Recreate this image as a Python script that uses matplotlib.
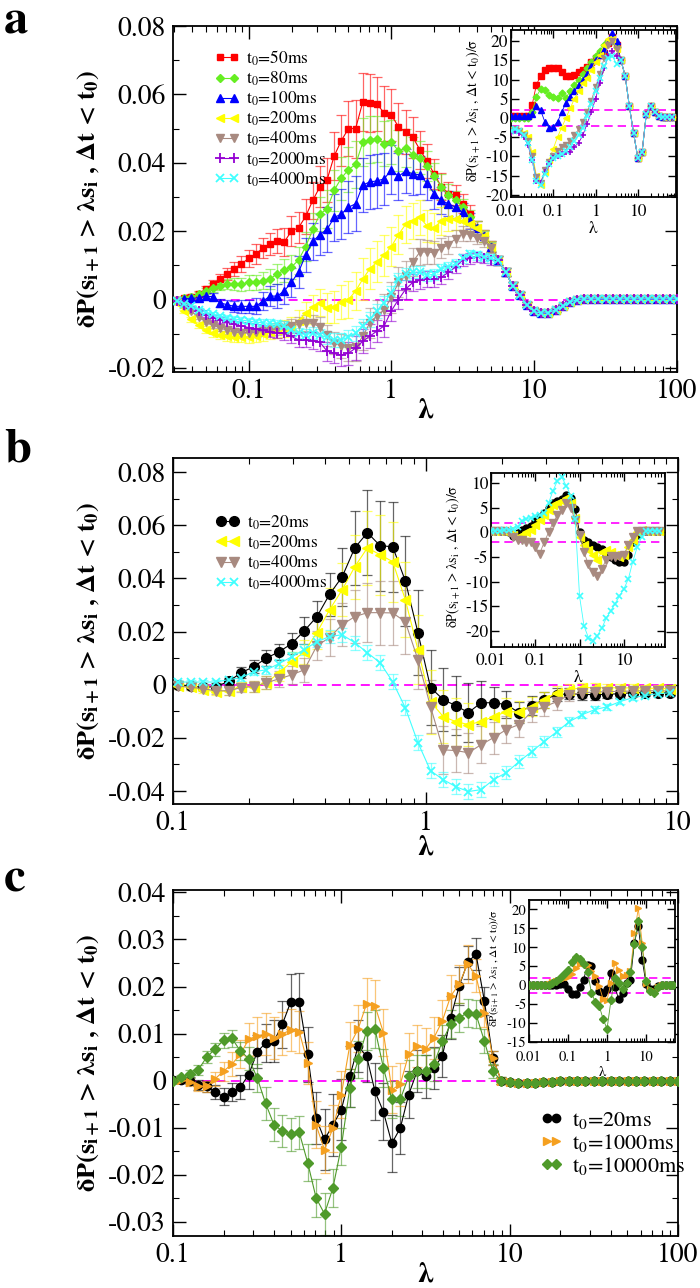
import numpy as np
import matplotlib
matplotlib.use('Agg')
import matplotlib.pyplot as plt
from matplotlib.ticker import LogLocator, NullFormatter, MultipleLocator

plt.rcParams['font.family'] = ['STIXGeneral', 'DejaVu Serif']
plt.rcParams['mathtext.fontset'] = 'stix'
plt.rcParams['mathtext.default'] = 'regular'

# ---------------- panel a (main) : lambda bins, 20 per decade ----------------
lam_a = 10 ** (np.arange(-30, 41) / 20)
labels_a = ['t$_0$=50ms', 't$_0$=80ms', 't$_0$=100ms', 't$_0$=200ms',
            't$_0$=400ms', 't$_0$=2000ms', 't$_0$=4000ms']
# shared high-lambda part (k = 15..40), all curves collapse there
tail_a = [0.0115, 0.008, 0.004, 0.0012, -0.0015, -0.0035, -0.004, -0.0038, -0.003, -0.002,
          -0.0008, 0.0, 0.0002, 0.0002, 0.0002, 0.0002, 0.0002, 0.0002, 0.0002, 0.0002,
          0.0002, 0.0002, 0.0002, 0.0002, 0.0002, 0.0002]
tail_a_err = [0.0013, 0.0012, 0.001, 0.0009, 0.0008, 0.0008, 0.0007, 0.0007, 0.0006, 0.0006,
              0.0005, 0.0005, 0.0004, 0.0004, 0.0004, 0.0004, 0.0004, 0.0004, 0.0004, 0.0004,
              0.0004, 0.0004, 0.0004, 0.0004, 0.0004, 0.0004]
red_a = [0.0, 0.0003, 0.0008, 0.0015, 0.003, 0.0045, 0.006, 0.0075, 0.009, 0.0104,
         0.012, 0.0133, 0.015, 0.0162, 0.0171, 0.0168, 0.020, 0.021, 0.0243, 0.029,
         0.033, 0.035, 0.042, 0.0465, 0.050, 0.050, 0.0578, 0.0575, 0.0572, 0.0545,
         0.054, 0.0505, 0.049, 0.0475, 0.0438, 0.0405, 0.0367, 0.033, 0.031, 0.0305,
         0.028, 0.025, 0.021, 0.0185, 0.0155]
green_a = [0.0, 0.0003, 0.0008, 0.0015, 0.0025, 0.0035, 0.004, 0.0045, 0.0045, 0.0045,
           0.005, 0.005, 0.0055, 0.006, 0.0075, 0.0085, 0.0095, 0.0115, 0.0155, 0.0205,
           0.025, 0.0265, 0.032, 0.0355, 0.038, 0.0395, 0.046, 0.0468, 0.047, 0.0456,
           0.046, 0.0435, 0.0444, 0.0424, 0.0415, 0.039, 0.036, 0.033, 0.0305, 0.029,
           0.027, 0.024, 0.021, 0.0185, 0.0155]
blue_a = [0.0, 0.0002, 0.0003, 0.0005, 0.001, 0.0008, -0.001, -0.0015, -0.002, -0.002,
          -0.002, -0.002, -0.0005, 0.001, 0.001, 0.0025, 0.005, 0.008, 0.013, 0.017,
          0.019, 0.0205, 0.024, 0.025, 0.027, 0.028, 0.0335, 0.0344, 0.0347, 0.0353,
          0.038, 0.036, 0.0376, 0.0367, 0.0365, 0.034, 0.031, 0.029, 0.028, 0.027,
          0.0255, 0.023, 0.021, 0.0185, 0.0155]
yellow_a = [-0.001, -0.0035, -0.0058, -0.0075, -0.0088, -0.0098, -0.0103, -0.0107, -0.011, -0.011,
            -0.011, -0.0107, -0.0102, -0.0095, -0.009, -0.0085, -0.0078, -0.0062, -0.004, -0.0022,
            -0.0009, -0.0025, -0.0022, -0.0007, 0.0, 0.0025, 0.006, 0.009, 0.011, 0.013,
            0.0155, 0.019, 0.022, 0.023, 0.024, 0.0215, 0.021, 0.023, 0.0235, 0.0235,
            0.023, 0.022, 0.021, 0.0185, 0.0155]
brown_a = [-0.0005, -0.002, -0.0035, -0.005, -0.0065, -0.0075, -0.0083, -0.009, -0.0095, -0.0098,
           -0.0098, -0.0096, -0.0093, -0.009, -0.0087, -0.0082, -0.0078, -0.0072, -0.0068, -0.007,
           -0.008, -0.0105, -0.0127, -0.0136, -0.0142, -0.014, -0.0107, -0.0068, -0.0047, -0.003,
           0.0006, 0.005, 0.007, 0.011, 0.0139, 0.0139, 0.0137, 0.015, 0.016, 0.0178,
           0.0193, 0.019, 0.018, 0.017, 0.015]
purple_a = [-0.0004, -0.0015, -0.0025, -0.0035, -0.0045, -0.0053, -0.006, -0.0067, -0.0073, -0.0077,
            -0.0082, -0.0086, -0.009, -0.0094, -0.0097, -0.0099, -0.0108, -0.0118, -0.0118, -0.012,
            -0.0125, -0.0151, -0.0157, -0.0163, -0.0157, -0.0142, -0.0122, -0.0107, -0.0092, -0.0077,
            -0.0033, 0.0, 0.003, 0.005, 0.0056, 0.006, 0.006, 0.0065, 0.008, 0.0095,
            0.0116, 0.012, 0.0125, 0.012, 0.0115]
cyan_a = [-0.0003, -0.0012, -0.002, -0.003, -0.0037, -0.0043, -0.0048, -0.0053, -0.0057, -0.006,
          -0.0063, -0.0066, -0.0068, -0.007, -0.0072, -0.0076, -0.009, -0.0098, -0.0103, -0.0098,
          -0.0104, -0.011, -0.0118, -0.0118, -0.011, -0.0098, -0.0078, -0.0058, -0.0033, -0.0009,
          0.002, 0.006, 0.0074, 0.008, 0.008, 0.0071, 0.0074, 0.009, 0.0095, 0.0105,
          0.012, 0.0133, 0.013, 0.0125, 0.012]
red_a_err = [0.0003, 0.0005, 0.0007, 0.0009, 0.0011, 0.0013, 0.0015, 0.0018, 0.002, 0.0023,
             0.0025, 0.0028, 0.003, 0.0033, 0.0036, 0.004, 0.0043, 0.0046, 0.005, 0.0055,
             0.006, 0.0065, 0.007, 0.0075, 0.008, 0.0085, 0.0085, 0.0085, 0.008, 0.008,
             0.0075, 0.007, 0.0065, 0.006, 0.0055, 0.005, 0.0045, 0.004, 0.0035, 0.003,
             0.0028, 0.0025, 0.002, 0.0017, 0.0015]
green_a_err = [0.0003, 0.0004, 0.0006, 0.0008, 0.001, 0.0012, 0.0013, 0.0015, 0.0017, 0.0019,
               0.0021, 0.0023, 0.0025, 0.0028, 0.003, 0.0033, 0.0036, 0.004, 0.0043, 0.0047,
               0.005, 0.0055, 0.006, 0.0063, 0.0066, 0.007, 0.007, 0.007, 0.0068, 0.0066,
               0.0064, 0.006, 0.0056, 0.0052, 0.0048, 0.0044, 0.004, 0.0036, 0.0032, 0.0028,
               0.0025, 0.0022, 0.0019, 0.0016, 0.0014]
blue_a_err = [0.0003, 0.0004, 0.0005, 0.0007, 0.0009, 0.001, 0.0012, 0.0014, 0.0016, 0.0018,
              0.002, 0.0023, 0.0026, 0.003, 0.0034, 0.0038, 0.0042, 0.0046, 0.005, 0.0055,
              0.006, 0.0065, 0.007, 0.0073, 0.0076, 0.008, 0.008, 0.008, 0.0078, 0.0076,
              0.0072, 0.0068, 0.0064, 0.006, 0.0055, 0.005, 0.0045, 0.004, 0.0036, 0.0032,
              0.0028, 0.0024, 0.002, 0.0017, 0.0015]
yellow_a_err = [0.0003, 0.0005, 0.0007, 0.0009, 0.001, 0.0011, 0.0012, 0.0013, 0.0014, 0.0015,
                0.0016, 0.0017, 0.0018, 0.002, 0.0022, 0.0025, 0.0028, 0.003, 0.0033, 0.0036,
                0.004, 0.0043, 0.0046, 0.005, 0.0053, 0.0056, 0.006, 0.006, 0.006, 0.006,
                0.0058, 0.0056, 0.0054, 0.0052, 0.005, 0.0047, 0.0044, 0.004, 0.0036, 0.0032,
                0.0028, 0.0024, 0.002, 0.0017, 0.0015]
brown_a_err = [0.0003, 0.0004, 0.0005, 0.0006, 0.0007, 0.0008, 0.0009, 0.001, 0.0011, 0.0012,
               0.0013, 0.0014, 0.0015, 0.0016, 0.0017, 0.0018, 0.002, 0.0022, 0.0024, 0.0026,
               0.0028, 0.003, 0.0032, 0.0035, 0.0038, 0.004, 0.0042, 0.0044, 0.0045, 0.0045,
               0.0045, 0.0044, 0.0042, 0.004, 0.0038, 0.0036, 0.0033, 0.003, 0.0027, 0.0024,
               0.0021, 0.0019, 0.0017, 0.0015, 0.0014]
purple_a_err = [0.0003, 0.0004, 0.0005, 0.0006, 0.0007, 0.0008, 0.0009, 0.001, 0.0011, 0.0012,
                0.0013, 0.0014, 0.0015, 0.0016, 0.0017, 0.0018, 0.0019, 0.002, 0.0022, 0.0024,
                0.0026, 0.0028, 0.003, 0.0032, 0.0034, 0.0035, 0.0035, 0.0034, 0.0033, 0.0032,
                0.003, 0.0029, 0.0028, 0.0026, 0.0025, 0.0024, 0.0022, 0.002, 0.0019, 0.0018,
                0.0017, 0.0016, 0.0015, 0.0014, 0.0013]
cyan_a_err = [0.0002, 0.0003, 0.0004, 0.0005, 0.0006, 0.0006, 0.0007, 0.0008, 0.0008, 0.0009,
              0.001, 0.001, 0.0011, 0.0012, 0.0012, 0.0013, 0.0014, 0.0015, 0.0016, 0.0017,
              0.0018, 0.0019, 0.002, 0.0021, 0.0022, 0.0022, 0.0022, 0.0022, 0.0021, 0.002,
              0.002, 0.0019, 0.0018, 0.0018, 0.0017, 0.0016, 0.0016, 0.0015, 0.0015, 0.0014,
              0.0014, 0.0013, 0.0013, 0.0012, 0.0012]

# ---------------- panel a (inset) : dP / sigma, 10 bins per decade ----------------
lam_ia = 10 ** (np.arange(-20, 19) / 10)
tail_ia = [15, 11, 3, -4, -10.4, -9, 1, 3, 1.5, 0.5, 0.3, 0.3, 0.3]
red_ia = [0.5, 0.5, 0.5, 0.5, 0.5, 3.4, 8.6, 11, 12.5, 13,
          13, 13, 12, 11, 10.8, 11.2, 12, 12.5, 13.3, 14.5,
          15.6, 16.3, 17, 19.5, 21, 19]
green_ia = [0, 0, 0, 0, 0, 1.5, 5.5, 7.5, 7.2, 6,
            5.5, 5.3, 6.5, 5.2, 7, 8.5, 10, 11.5, 13, 14.5,
            16, 17.5, 19, 20, 20, 18.5]
blue_ia = [0.5, 0.5, 0.5, 0.5, 0.5, 1, 3, 2, -1, -2.5,
           -2.3, -1, 1.5, 4, 5.5, 7, 8.5, 10, 11.5, 13.5,
           15, 16.5, 18, 20, 22, 20]
yellow_ia = [-3, -3, -3.5, -4, -5, -9, -15, -17.5, -14, -11,
             -8, -5, -2.5, 0, 2.5, 5, 7, 9, 10.5, 12.5,
             14.5, 16.5, 19, 20.5, 20.5, 18]
brown_ia = [-3.5, -3, -3.5, -4.5, -6, -10, -15.5, -17, -13.5, -11.5,
            -10, -8.5, -7.5, -7, -6, -4.5, -3, -1, 1.5, 4.5,
            8, 11.5, 15.5, 19, 20, 18]
purple_ia = [-4, -3.5, -4, -5, -7, -11, -16.5, -17, -14, -12,
             -10.5, -10, -9.5, -9, -8.8, -7.5, -6.5, -4.5, -1.5, 1.5,
             5, 9, 13, 16, 17.5, 16]
cyan_ia = [-3.5, -3, -3.5, -4.5, -6.5, -11, -16.5, -17.5, -14.5, -12,
           -10.5, -10, -9.5, -8.5, -7.5, -6, -4.5, -2.5, 0.5, 3.5,
           7, 10.5, 13.5, 15.5, 16, 14]

# ---------------- panel b (main) ----------------
lam_b = 10 ** ((np.arange(-20, 20) + 0.4) / 20)
labels_b = ['t$_0$=20ms', 't$_0$=200ms', 't$_0$=400ms', 't$_0$=4000ms']
black_b = [0.0, -0.0006, -0.001, -0.0007, 0.0012, 0.0045, 0.0068, 0.01, 0.0124, 0.0154,
           0.0203, 0.0256, 0.034, 0.0406, 0.0515, 0.0572, 0.0523, 0.0519, 0.0391, 0.0196,
           -0.0011, -0.0056, -0.0079, -0.0105, -0.0068, -0.0068, -0.0075, -0.0105, -0.0079, -0.0056,
           -0.0038, -0.0034, -0.0036, -0.0038, -0.0036, -0.0034, -0.003, -0.003, -0.003, -0.003]
yellow_b = [-0.0005, -0.001, -0.002, -0.0026, -0.0023, -0.0007, -0.0007, 0.0007, 0.0045, 0.0087,
            0.0124, 0.0196, 0.0282, 0.0357, 0.0444, 0.0515, 0.0489, 0.0463, 0.032, 0.0132,
            -0.0064, -0.012, -0.0139, -0.015, -0.0139, -0.012, -0.0102, -0.0102, -0.0083, -0.0056,
            -0.003, -0.0019, -0.0011, -0.0011, -0.0011, -0.0012, -0.0012, -0.0013, -0.0014, -0.0015]
brown_b = [-0.0005, -0.001, -0.0015, -0.0023, -0.0023, -0.0011, -0.0007, 0.0007, 0.0022, 0.0037,
           0.0056, 0.0147, 0.0177, 0.0226, 0.0256, 0.0271, 0.0271, 0.027, 0.0237, 0.0094,
           -0.0083, -0.0245, -0.0248, -0.0256, -0.0226, -0.0199, -0.0169, -0.015, -0.0102, -0.0083,
           -0.0064, -0.0038, -0.003, -0.0028, -0.0026, -0.0025, -0.0024, -0.0023, -0.0023, -0.0024]
cyan_b = [0.001, 0.001, 0.001, 0.001, 0.0019, 0.0026, 0.0049, 0.0056, 0.0079, 0.0105,
          0.0132, 0.0162, 0.0181, 0.0188, 0.0158, 0.012, 0.0083, 0.0011, -0.0087, -0.0218,
          -0.0324, -0.0357, -0.0384, -0.0402, -0.0395, -0.0357, -0.0331, -0.029, -0.0252, -0.0214,
          -0.0177, -0.0139, -0.0113, -0.0094, -0.0083, -0.0064, -0.0049, -0.0041, -0.0034, -0.003]
black_b_err = [0.001, 0.001, 0.001, 0.0012, 0.0015, 0.002, 0.0025, 0.003, 0.003, 0.004,
               0.005, 0.006, 0.008, 0.011, 0.014, 0.016, 0.017, 0.017, 0.017, 0.016,
               0.014, 0.012, 0.011, 0.011, 0.008, 0.006, 0.005, 0.004, 0.0035, 0.003,
               0.0025, 0.002, 0.002, 0.0018, 0.0016, 0.0015, 0.0014, 0.0013, 0.0012, 0.0012]
yellow_b_err = [0.001, 0.001, 0.001, 0.0012, 0.0014, 0.0016, 0.002, 0.0025, 0.003, 0.0035,
                0.0045, 0.006, 0.008, 0.01, 0.012, 0.014, 0.015, 0.015, 0.014, 0.013,
                0.012, 0.01, 0.009, 0.008, 0.007, 0.006, 0.005, 0.004, 0.0035, 0.003,
                0.0025, 0.002, 0.0018, 0.0016, 0.0015, 0.0014, 0.0013, 0.0012, 0.0012, 0.0012]
brown_b_err = [0.001, 0.001, 0.001, 0.0012, 0.0014, 0.0016, 0.002, 0.0025, 0.003, 0.0035,
               0.0045, 0.0055, 0.007, 0.008, 0.01, 0.011, 0.012, 0.012, 0.012, 0.011,
               0.01, 0.009, 0.008, 0.0075, 0.007, 0.006, 0.005, 0.0045, 0.004, 0.0035,
               0.003, 0.0025, 0.002, 0.0018, 0.0016, 0.0015, 0.0014, 0.0013, 0.0012, 0.0012]
cyan_b_err = [0.0008, 0.0008, 0.0008, 0.0009, 0.001, 0.0011, 0.0012, 0.0014, 0.0016, 0.0018,
              0.002, 0.0022, 0.0024, 0.0026, 0.0027, 0.0028, 0.0028, 0.0028, 0.0028, 0.0028,
              0.0028, 0.0028, 0.0028, 0.0028, 0.0028, 0.0026, 0.0025, 0.0024, 0.0022, 0.002,
              0.0018, 0.0016, 0.0014, 0.0012, 0.0011, 0.001, 0.001, 0.0009, 0.0009, 0.0008]

# ---------------- panel b (inset) ----------------
lam_ib = 10 ** (np.arange(-20, 19) / 10)
black_ib = [0.4, 0.4, 0.4, 0.4, 0, -0.7, -0.2, 0.5, 1, 1.4,
            2.4, 3.2, 4, 5, 6, 6.5, 6.9, 7.7, 7, 4.8,
            0, -1.6, -2, -2.6, -3, -3.3, -4.3, -5, -5.5, -6.1,
            -6.1, -4.5, -2, -0.5, 0.4, 0.4, 0.4, 0.4, 0.4]
yellow_ib = [0.4, 0.4, 0.4, 0.4, 0.2, -0.5, -1, -0.5, 0, 0.5,
             1.5, 2.5, 3.5, 4.5, 5.5, 6, 6.5, 7, 6, 3,
             -1, -2.5, -3.5, -4.5, -5.5, -4, -3.5, -4, -4.5, -5,
             -4.5, -3, -1.5, 0, 0.5, 0.4, 0.4, 0.4, 0.4]
brown_ib = [0.3, 0.3, 0.3, 0.3, 0, -1, -1.5, -1.5, -2, -2,
            -3, -4.3, -2, 0, 2, 3.5, 4.5, 5.9, 5, 2.5,
            -0.5, -4, -6.5, -8.1, -8.8, -7.5, -5.5, -4.7, -5, -4.8,
            -4.5, -2.6, -1, 0.3, 0.4, 0.3, 0.3, 0.3, 0.3]
cyan_ib = [0.4, 0.4, 0.4, 0.5, 0.6, 0.8, 1.2, 2.4, 2.8, 3,
           3.3, 3.6, 4, 6, 8.5, 10.5, 11.2, 9.5, 7.5, 2.8,
           -13, -19, -21.4, -22, -21, -19.5, -17.5, -16, -14.5, -13,
           -11.5, -9.5, -6, -3, -1, 0.4, 0.4, 0.4, 0.4]

# ---------------- panel c (main) ----------------
lam_c = 10 ** (np.arange(-20, 41) / 20)
labels_c = ['t$_0$=20ms', 't$_0$=1000ms', 't$_0$=10000ms']
tail_c = [-0.0003, -0.0005, -0.0005, -0.0004, -0.0003, -0.0002, -0.0001, 0.0, 0.0, 0.0,
          0.0, 0.0, 0.0, 0.0, 0.0, 0.0, 0.0, 0.0, 0.0, 0.0, 0.0]
tail_c_err = [0.0005] * 21
black_c = [0.0002, 0.0002, 0.0, -0.0009, -0.0012, -0.0024, -0.0034, -0.0024, -0.0014, 0.0013,
           0.0061, 0.008, 0.0084, 0.012, 0.0168, 0.0168, 0.0056, -0.008, -0.0125, -0.0094,
           -0.0062, 0.0009, 0.0073, 0.0052, -0.0023, -0.0066, -0.0133, -0.0101, -0.003, 0.002,
           0.0009, 0.0027, 0.0052, 0.0134, 0.0201, 0.0251, 0.0269, 0.0169, 0.0048, 0.0]
orange_c = [0.0, 0.0002, -0.0003, -0.0012, -0.0012, 0.0004, 0.002, 0.0035, 0.0056, 0.0088,
            0.0095, 0.0099, 0.0091, 0.01, 0.0107, 0.0104, 0.0038, -0.0094, -0.0147, -0.0101,
            -0.003, 0.0075, 0.011, 0.0163, 0.0159, 0.0102, -0.0019, -0.0008, 0.0056, 0.0073,
            0.0067, 0.0091, 0.0127, 0.018, 0.0205, 0.0248, 0.0223, 0.0144, 0.0048, 0.0]
green_c = [0.0, 0.0007, 0.0014, 0.0023, 0.005, 0.0067, 0.0086, 0.009, 0.0063, 0.0047,
           0.0006, -0.0048, -0.0094, -0.0107, -0.0114, -0.011, -0.0174, -0.0249, -0.0283, -0.0228,
           -0.014, -0.0016, 0.0045, 0.0105, 0.011, 0.0027, -0.004, -0.004, 0.0009, 0.002,
           0.002, 0.0035, 0.0084, 0.012, 0.0134, 0.0144, 0.0141, 0.0084, 0.002, 0.0]
black_c_err = [0.0005, 0.0006, 0.0008, 0.001, 0.0012, 0.0015, 0.0018, 0.002, 0.0025, 0.003,
               0.0035, 0.004, 0.0045, 0.005, 0.0058, 0.006, 0.0058, 0.0055, 0.0065, 0.0065,
               0.0065, 0.0065, 0.0055, 0.0055, 0.006, 0.006, 0.006, 0.0055, 0.005, 0.0045,
               0.0045, 0.0045, 0.0045, 0.0045, 0.004, 0.0035, 0.0035, 0.003, 0.0015, 0.0008]
orange_c_err = [0.0005, 0.0006, 0.0008, 0.001, 0.0012, 0.0015, 0.002, 0.0025, 0.003, 0.0035,
                0.004, 0.0045, 0.0045, 0.0045, 0.0045, 0.0045, 0.0045, 0.005, 0.005, 0.005,
                0.005, 0.005, 0.005, 0.0055, 0.0055, 0.005, 0.005, 0.0045, 0.0045, 0.0045,
                0.0045, 0.0045, 0.0045, 0.0045, 0.004, 0.004, 0.0035, 0.003, 0.0015, 0.0008]
green_c_err = [0.0005, 0.0006, 0.0008, 0.001, 0.0012, 0.0014, 0.0016, 0.0018, 0.002, 0.0025,
               0.003, 0.0035, 0.0035, 0.0035, 0.0035, 0.0035, 0.004, 0.004, 0.0045, 0.004,
               0.004, 0.004, 0.004, 0.004, 0.004, 0.004, 0.004, 0.0035, 0.0035, 0.0035,
               0.0035, 0.0035, 0.0035, 0.003, 0.003, 0.003, 0.003, 0.0025, 0.0015, 0.0008]

# ---------------- panel c (inset) ----------------
lam_ic = 10 ** (np.arange(-20, 18) / 10)
black_ic = [0, 0, 0, 0, 0, 0, 0, 0, 0.3, 0.3,
            -1, -2.3, -2.3, -0.5, 1.5, 5.4, 5.1, 1.2, -1.4, -2,
            -1, 3.3, -0.6, -3.7, -2, 0.7, 1.5, 11.2, 15.6, 6.7,
            0.2, -1, -1, -0.3, 0, 0, 0, 0]
orange_ic = [0, 0, 0, 0, 0, 0.2, 0.8, 1.2, 1.5, 2,
             2.2, 3, 4.5, 5.5, 5.9, 5.4, 3.8, 2.5, -0.3, -3.7,
             -4, 0.7, 5.9, 4, 2.5, 2.8, 3.8, 13.7, 20.3, 11.2,
             0.7, -1, -1.4, -0.6, 0, 0, 0, 0]
green_ic = [0, 0, 0, 0, 0, 0, 0.7, 1.2, 2, 3,
            4, 6, 7.5, 7, 5.5, 3.5, -2, -4.5, -5.5, -9,
            -11.5, -4, 2, 0.5, -1, 0.5, 3.5, 11, 17, 10,
            1, -1.5, -2, -0.5, 0, 0, 0, 0]

# colours / markers
C_RED, C_GREEN, C_BLUE, C_YEL = '#ff0000', '#66ee22', '#0000ff', '#ffff00'
C_BROWN, C_PURP, C_CYAN = '#a88a80', '#9400d3', '#40ffff'
C_BLACK, C_ORANGE, C_DGREEN = '#000000', '#f5a020', '#4f9a2a'
MAG = '#ff00ff'

main_ylab = r'δP(s$_{\mathbf{i+1}}$ > λs$_{\mathbf{i}}$ , Δt < t$_{\mathbf{0}}$)'
ins_ylab = r'δP(s$_{i+1}$ > λs$_i$ , Δt < t$_0$)/σ'

W, H = 700, 1288
fig = plt.figure(figsize=(W / 100, H / 100), dpi=100)


def box(x0, y0, x1, y1):
    # pixel box (top-left origin) -> figure fraction rect
    return [x0 / W, 1 - y1 / H, (x1 - x0) / W, (y1 - y0) / H]


def style(ax, fs, maj=9, mnr=4.5):
    ax.tick_params(which='both', direction='in', top=True, right=True, labelsize=fs, pad=5)
    ax.tick_params(which='major', length=maj, width=1.0)
    ax.tick_params(which='minor', length=mnr, width=0.8)
    for s in ax.spines.values():
        s.set_linewidth(1.3)


def logx(ax, ticks, labs):
    ax.set_xscale('log')
    ax.set_xticks(ticks)
    ax.set_xticklabels(labs)
    ax.xaxis.set_minor_locator(LogLocator(base=10, subs=np.arange(2, 10)))
    ax.xaxis.set_minor_formatter(NullFormatter())


def series(ax, x, y, e, c, m, lab, ms, mew=1.0):
    ax.errorbar(x, y, yerr=e, fmt='none', ecolor=c, elinewidth=0.9, capsize=3.5,
                capthick=0.9, alpha=0.6, zorder=2)
    h, = ax.plot(x, y, '-', marker=m, color=c, lw=0.8, ms=ms, mec=c, mfc=c, mew=mew,
                 label=lab, zorder=3)
    return h


def main_axes(rect, ylim, yticks, ylabs, xlim, xticks, xlabs, yminor, xlab_y):
    ax = fig.add_axes(rect)
    logx(ax, xticks, xlabs)
    ax.set_xlim(*xlim)
    ax.set_ylim(*ylim)
    ax.set_yticks(yticks)
    ax.set_yticklabels(ylabs)
    ax.yaxis.set_minor_locator(MultipleLocator(yminor))
    style(ax, 20)
    ax.axhline(0, color=MAG, ls=(0, (5, 3)), lw=1.3, zorder=1)
    ax.set_ylabel(main_ylab, fontsize=19, fontweight='bold')
    ax.yaxis.set_label_coords(-0.14, 0.5)
    ax.set_xlabel('λ', fontsize=21, fontweight='bold')
    ax.xaxis.set_label_coords(0.5, xlab_y)
    return ax


def inset_axes(rect, xlim, ylim, yticks, fs, lfs, ylx, xpad):
    ax = fig.add_axes(rect, zorder=5)
    ax.set_facecolor('white')
    logx(ax, [0.01, 0.1, 1, 10], ['0.01', '0.1', '1', '10'])
    ax.set_xlim(*xlim)
    ax.set_ylim(*ylim)
    ax.set_yticks(yticks)
    ax.set_yticklabels([str(t) for t in yticks])
    style(ax, fs, maj=6, mnr=3)
    ax.tick_params(axis='y', pad=2)
    ax.tick_params(axis='x', pad=xpad)
    for v in (2, -2):
        ax.axhline(v, color=MAG, ls=(0, (5, 3)), lw=1.2, zorder=1)
    ax.set_ylabel(ins_ylab, fontsize=lfs, labelpad=0)
    ax.yaxis.set_label_coords(ylx, 0.52)
    ax.set_xlabel('λ', fontsize=fs, labelpad=1)
    return ax


def inset_line(ax, x, y, c, m, ms=4, mew=1.0):
    ax.plot(x, y, '-', marker=m, color=c, lw=0.6, ms=ms, mec=c, mfc=c, mew=mew, zorder=3)


# ======================= panel a =======================
axa = main_axes(box(173, 26, 677, 372), (-0.0212, 0.08),
                [-0.02, 0, 0.02, 0.04, 0.06, 0.08], ['-0.02', '0', '0.02', '0.04', '0.06', '0.08'],
                (0.0296, 100), [0.1, 1, 10, 100], ['0.1', '1', '10', '100'], 0.01, -0.075)
specs_a = [(red_a, red_a_err, C_RED, 's', 5, 1.0),
           (green_a, green_a_err, C_GREEN, 'D', 4.5, 1.0),
           (blue_a, blue_a_err, C_BLUE, '^', 5.5, 1.0),
           (yellow_a, yellow_a_err, C_YEL, '<', 5.5, 1.0),
           (brown_a, brown_a_err, C_BROWN, 'v', 5.5, 1.0),
           (purple_a, purple_a_err, C_PURP, '+', 7, 1.3),
           (cyan_a, cyan_a_err, C_CYAN, 'x', 5.5, 1.3)]
hs = []
for (y, e, c, m, ms, mew), lab in zip(specs_a, labels_a):
    hs.append(series(axa, lam_a, y + tail_a, e + tail_a_err, c, m, lab, ms, mew))
axa.legend(handles=hs, loc='upper left', bbox_to_anchor=(0.07, 0.955), frameon=False,
           fontsize=12.5, numpoints=2, handlelength=1.4, handletextpad=0.4, labelspacing=0.1,
           borderaxespad=0)

ia = inset_axes(box(511, 30, 676, 197), (0.01, 80), (-20.6, 22.9),
                [-20, -15, -10, -5, 0, 5, 10, 15, 20], 12.5, 10, -0.175, 5)
ins_a = [(red_ia, C_RED, 's', 4, 1.0), (green_ia, C_GREEN, 'D', 3.5, 1.0),
         (blue_ia, C_BLUE, '^', 4.5, 1.0), (yellow_ia, C_YEL, '<', 4.5, 1.0),
         (brown_ia, C_BROWN, 'v', 4.5, 1.0), (purple_ia, C_PURP, '+', 5, 1.2),
         (cyan_ia, C_CYAN, 'x', 4, 1.2)]
for y, c, m, ms, mew in ins_a:
    inset_line(ia, lam_ia, y + tail_ia, c, m, ms, mew)

# ======================= panel b =======================
axb = main_axes(box(173, 458, 678, 804), (-0.0449, 0.0853),
                [-0.04, -0.02, 0, 0.02, 0.04, 0.06, 0.08],
                ['-0.04', '-0.02', '0', '0.02', '0.04', '0.06', '0.08'],
                (0.1, 10), [0.1, 1, 10], ['0.1', '1', '10'], 0.01, -0.088)
specs_b = [(black_b, black_b_err, C_BLACK, 'o', 7, 1.0),
           (yellow_b, yellow_b_err, C_YEL, '<', 7, 1.0),
           (brown_b, brown_b_err, C_BROWN, 'v', 7, 1.0),
           (cyan_b, cyan_b_err, C_CYAN, 'x', 6, 1.3)]
hs = []
for (y, e, c, m, ms, mew), lab in zip(specs_b, labels_b):
    hs.append(series(axb, lam_b, y, e, c, m, lab, ms, mew))
axb.legend(handles=hs, loc='upper left', bbox_to_anchor=(0.07, 0.86), frameon=False,
           fontsize=12.5, numpoints=2, handlelength=1.4, handletextpad=0.4, labelspacing=0.1,
           borderaxespad=0)

ib = inset_axes(box(491, 473, 665, 647), (0.01, 85), (-23.3, 12.1),
                [-20, -15, -10, -5, 0, 5, 10], 12.5, 10, -0.165, 4)
for y, c, m, ms, mew in [(black_ib, C_BLACK, 'o', 5, 1.0), (yellow_ib, C_YEL, '<', 5.5, 1.0),
                         (brown_ib, C_BROWN, 'v', 6, 1.0), (cyan_ib, C_CYAN, 'x', 4.5, 1.2)]:
    inset_line(ib, lam_ib, y, c, m, ms, mew)

# ======================= panel c =======================
axc = main_axes(box(173, 890, 678, 1236), (-0.033, 0.0405),
                [-0.03, -0.02, -0.01, 0, 0.01, 0.02, 0.03, 0.04],
                ['-0.03', '-0.02', '-0.01', '0', '0.01', '0.02', '0.03', '0.04'],
                (0.1, 100), [0.1, 1, 10, 100], ['0.1', '1', '10', '100'], 0.005, -0.075)
specs_c = [(black_c, black_c_err, C_BLACK, 'o', 6, 1.0),
           (orange_c, orange_c_err, C_ORANGE, '>', 6, 1.0),
           (green_c, green_c_err, C_DGREEN, 'D', 5, 1.0)]
hs = []
for (y, e, c, m, ms, mew), lab in zip(specs_c, labels_c):
    hs.append(series(axc, lam_c, y + tail_c, e + tail_c_err, c, m, lab, ms, mew))
axc.legend(handles=hs, loc='upper left', bbox_to_anchor=(0.71, 0.39), frameon=False,
           fontsize=16, numpoints=2, handlelength=1.0, handletextpad=0.4, labelspacing=0.05,
           borderaxespad=0)

ic = inset_axes(box(529, 900, 675, 1042), (0.01, 55), (-15, 22.5),
                [-15, -10, -5, 0, 5, 10, 15, 20], 10.5, 8.2, -0.19, 6)
for y, c, m, ms, mew in [(black_ic, C_BLACK, 'o', 5, 1.0), (orange_ic, C_ORANGE, '>', 5, 1.0),
                         (green_ic, C_DGREEN, 'D', 4, 1.0)]:
    inset_line(ic, lam_ic, y, c, m, ms, mew)

# panel letters (baseline placement)
for lab, ybase in (('a', 33), ('b', 461), ('c', 891)):
    fig.text(4 / W, 1 - ybase / H, lab, fontsize=35, fontweight='bold', va='baseline', ha='left')

fig.savefig('out.png', dpi=100, facecolor='white')
